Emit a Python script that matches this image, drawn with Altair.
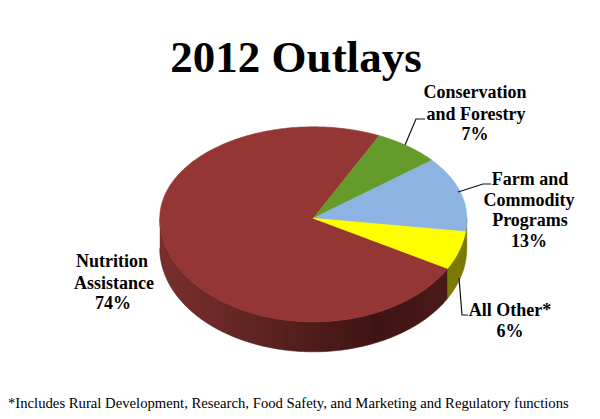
import math
import altair as alt
import pandas as pd

TITLE = "2012 Outlays"
CATEGORIES = ["Nutrition Assistance", "Conservation and Forestry", "Farm and Commodity Programs", "All Other*"]
SHARES = [74, 7, 13, 6]
COLORS = ["#943634", "#659B2B", "#8DB3E2", "#FFFF00"]
FOOTNOTE = "*Includes Rural Development, Research, Food Safety, and Marketing and Regulatory functions"

W, H = 584, 403
CX, CY = 313.3, 218.3
RX, RY_TOP, RY_BOT = 153.5, 91.5, 103.5
DEPTH = 30
START = 119.0
SERIF = "Liberation Serif"

x_scale = alt.Scale(domain=[8, 8 + W], range=[0, W], nice=False, zero=False)
y_scale = alt.Scale(domain=[8, 8 + H], range=[0, H], nice=False, zero=False)


def rim(a, drop=0):
    r = math.radians(a)
    c = math.cos(r)
    return CX + RX * math.sin(r), CY - c * (RY_TOP if c > 0 else RY_BOT) + drop


def poly(points, **mark):
    df = pd.DataFrame([{"px": p[0], "py": p[1], "seq": i} for i, p in enumerate(points)])
    return alt.Chart(df).mark_line(strokeWidth=0.6, **mark).encode(
        x=alt.X("px:Q", scale=x_scale, axis=None),
        y=alt.Y("py:Q", scale=y_scale, axis=None),
        order=alt.Order("seq:Q"),
    )


def arc_range(a0, a1):
    n = max(2, int(abs(a1 - a0)))
    return [a0 + (a1 - a0) * i / n for i in range(n + 1)]


layers = []
bounds = []
a = START
for s in SHARES:
    bounds.append((a, a + s * 3.6))
    a += s * 3.6

wall_red = arc_range(270, START)
pts = [rim(t) for t in wall_red] + [rim(t, DEPTH) for t in reversed(wall_red)]
grad = alt.Gradient(
    gradient="linear", x1=0, x2=1, y1=0, y2=0,
    stops=[
        alt.GradientStop(offset=0, color="#7A2F2D"),
        alt.GradientStop(offset=0.35, color="#5E2321"),
        alt.GradientStop(offset=0.75, color="#3E1413"),
        alt.GradientStop(offset=1, color="#4A1A18"),
    ],
)
layers.append(poly(pts, fill=grad, stroke="#4A1A18"))
wall_y = arc_range(START, 90)
pts = [rim(t) for t in wall_y] + [rim(t, DEPTH) for t in reversed(wall_y)]
layers.append(poly(pts, fill="#7A7A00", stroke="#7A7A00"))

for (a0, a1), col in zip(bounds, COLORS):
    pts = [(CX, CY)] + [rim(t) for t in arc_range(a0, a1)] + [(CX, CY)]
    layers.append(poly(pts, fill=col, stroke=col))


def leader(points):
    return poly(points, stroke="#111111").mark_line(stroke="#111111", strokeWidth=1.2)


layers.append(leader([(405, 145), (416, 119), (425, 119)]))
layers.append(leader([(458, 192), (483, 184), (491, 184)]))
layers.append(leader([(459, 278), (462, 315), (468, 315)]))


def text(s, x, y, size=17, weight="bold", align="center"):
    return alt.Chart(alt.Data(values=[{}])).mark_text(
        text=s, font=SERIF, fontSize=size, fontWeight=weight, align=align, baseline="alphabetic", color="#000000"
    ).encode(x=alt.value(x - 8), y=alt.value(y - 8))


LABELS = [
    ("Conservation", 475, 98), ("and Forestry", 476, 120), ("7%", 475, 140),
    ("Farm and", 530, 185), ("Commodity", 529, 206), ("Programs", 530, 226), ("13%", 529, 247),
    ("All Other*", 510, 316), ("6%", 510, 337),
    ("Nutrition", 112, 267), ("Assistance", 114, 289), ("74%", 113, 309),
]
layers.append(text(TITLE, 296, 72, size=45))
for s, x, y in LABELS:
    layers.append(text(s, x, y, size=18))
layers.append(text(FOOTNOTE, 8, 408, size=14.7, weight="normal", align="left"))

chart = alt.layer(*layers).properties(
    width=W, height=H, padding=0, background="#FFFFFF",
    autosize=alt.AutoSizeParams(type="none")
).configure_view(stroke=None)

chart.save("out.html", embed_options={"renderer": "svg", "actions": False})
